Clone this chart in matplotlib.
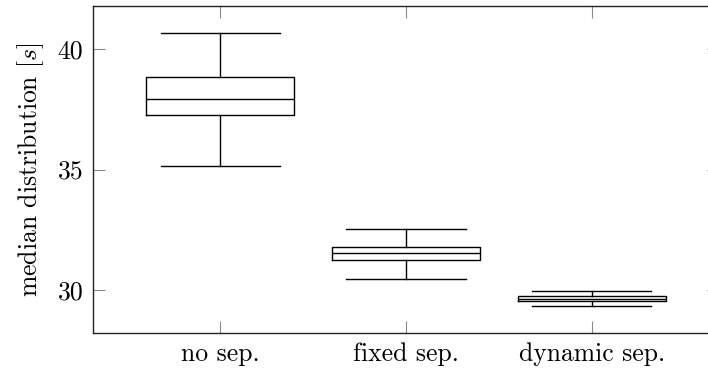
import matplotlib
matplotlib.use("Agg")
import matplotlib.pyplot as plt

plt.rcParams["font.family"] = ["cmr10", "DejaVu Serif"]
plt.rcParams["mathtext.fontset"] = "cm"
plt.rcParams["axes.formatter.use_mathtext"] = True

# Five-number summaries per configuration
categories = ["no sep.", "fixed sep.", "dynamic sep."]
whisker_low = [35.16, 30.46, 29.34]
q1 = [37.24, 31.24, 29.55]
median = [37.93, 31.53, 29.64]
q3 = [38.83, 31.78, 29.76]
whisker_high = [40.65, 32.53, 29.96]
y_ticks = [30, 35, 40]

stats = []
for name, lo, a, m, b, hi in zip(categories, whisker_low, q1, median, q3, whisker_high):
    stats.append({"label": name, "whislo": lo, "q1": a, "med": m,
                  "q3": b, "whishi": hi, "fliers": []})

fig = plt.figure(figsize=(7.08, 3.71), dpi=100)
ax = fig.add_axes([93 / 708, 1 - 333 / 371, (719 - 93) / 708, (333 - 6) / 371])

line = dict(color="black", linewidth=1.0)
ax.bxp(stats, positions=[1, 2, 3], widths=0.8, capwidths=0.64,
       showfliers=False, boxprops=line, whiskerprops=line,
       capprops=line, medianprops=line)

ax.set_xlim(0.317, 3.683)
ax.set_ylim(28.22, 41.78)
ax.set_yticks(y_ticks)
ax.set_yticklabels([str(t) for t in y_ticks])
ax.set_xticks([1, 2, 3])
ax.set_xticklabels(categories)

ax.tick_params(direction="in", length=8.5, width=0.8, color="#8a8a8a",
               top=True, right=True, labelsize=18.5, pad=7)
for s in ax.spines.values():
    s.set_linewidth(1.0)
    s.set_color("#222222")

ax.set_ylabel("median distribution [$s$]", fontsize=18.5, labelpad=8)

fig.savefig("out.png", dpi=100)
